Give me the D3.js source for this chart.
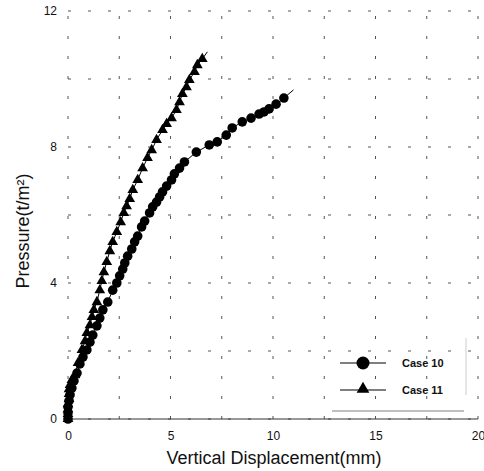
<!DOCTYPE html>
<html>
<head>
<meta charset="utf-8">
<script src="https://cdnjs.cloudflare.com/ajax/libs/d3/7.8.5/d3.min.js"></script>
<style>
  body { margin: 0; background: #fff; }
</style>
</head>
<body>
<div class="chart"></div>
<script>
const xTicks = [0, 5, 10, 15, 20];
const yTicks = [0, 4, 8, 12];
const xGrid = [0, 2.5, 5, 7.5, 10, 12.5, 15, 17.5, 20];
const yGrid = [0, 2, 4, 6, 8, 10, 12];

// Case 10 (circles)
const case10X = [0, 0, 0, 0.05, 0.1, 0.19, 0.29, 0.44, 0.58, 0.73, 0.92, 1.07, 1.21, 1.41, 1.55, 1.7,
  1.94, 2.18, 2.38, 2.52, 2.67, 2.77, 2.91, 3.11, 3.25, 3.4, 3.59, 3.74, 3.98, 4.13, 4.32, 4.47,
  4.61, 4.81, 5.05, 5.19, 5.44, 5.68, 6.26, 6.89, 7.28, 7.72, 8.01, 8.5, 8.93, 9.32, 9.56, 9.81,
  10.15, 10.53];
const case10Y = [0, 0.18, 0.35, 0.53, 0.71, 0.91, 1.12, 1.35, 1.62, 1.82, 2.03, 2.26, 2.47, 2.74, 2.97, 3.21,
  3.44, 3.79, 4.0, 4.21, 4.41, 4.59, 4.79, 5.0, 5.21, 5.38, 5.65, 5.82, 6.06, 6.24, 6.38, 6.53,
  6.68, 6.85, 7.03, 7.21, 7.38, 7.56, 7.85, 8.06, 8.15, 8.35, 8.56, 8.74, 8.85, 8.97, 9.03, 9.12,
  9.26, 9.44];
const case10End = [11.0, 9.68];

// Case 11 (triangles)
const case11X = [0, 0, 0, 0, 0.05, 0.05, 0.05, 0.1, 0.19, 0.34, 0.49, 0.68, 0.83, 0.92, 1.07, 1.17,
  1.26, 1.41, 1.55, 1.65, 1.75, 1.89, 2.04, 2.18, 2.38, 2.57, 2.72, 2.86, 3.01, 3.16, 3.4, 3.64,
  3.88, 4.08, 4.32, 4.61, 4.81, 5.05, 5.29, 5.44, 5.58, 5.78, 5.92, 6.17, 6.31, 6.55];
const case11Y = [0, 0.15, 0.29, 0.44, 0.59, 0.74, 0.88, 1.0, 1.15, 1.29, 1.65, 2.03, 2.29, 2.53, 2.76, 3.0,
  3.21, 3.44, 3.79, 4.06, 4.32, 4.62, 4.94, 5.21, 5.5, 5.79, 6.06, 6.26, 6.47, 6.74, 7.03, 7.38,
  7.68, 7.91, 8.21, 8.5, 8.68, 8.85, 9.09, 9.32, 9.56, 9.76, 9.97, 10.21, 10.41, 10.59];
const case11End = [6.8, 10.8];

const legendLabels = ["Case 10", "Case 11"];

const svgWidth = 484,
  svgHeight = 471,
  gridColor = "#555";

const svg = d3
  .select(".chart")
  .append("svg")
  .attr("width", svgWidth)
  .attr("height", svgHeight)
  .style("font-family", "Arial, 'Liberation Sans', sans-serif");

const xScale = d3.scaleLinear().domain([0, 20]).range([68, 478]);
const yScale = d3.scaleLinear().domain([0, 12]).range([419, 11]);

// grid
svg
  .selectAll(".vgrid")
  .data(xGrid)
  .enter()
  .append("line")
  .attr("x1", (d) => xScale(d))
  .attr("x2", (d) => xScale(d))
  .attr("y1", yScale(0))
  .attr("y2", yScale(12))
  .attr("stroke", gridColor)
  .attr("stroke-width", 1)
  .attr("stroke-dasharray", "3,17");

svg
  .selectAll(".hgrid")
  .data(yGrid)
  .enter()
  .append("line")
  .attr("x1", xScale(0))
  .attr("x2", xScale(20))
  .attr("y1", (d) => yScale(d))
  .attr("y2", (d) => yScale(d))
  .attr("stroke", gridColor)
  .attr("stroke-width", 1)
  .attr("stroke-dasharray", "3,17");

// bottom baseline
svg
  .append("line")
  .attr("x1", xScale(0))
  .attr("x2", xScale(20))
  .attr("y1", yScale(0))
  .attr("y2", yScale(0))
  .attr("stroke", "#333")
  .attr("stroke-width", 1);

// axes
const xAxis = d3.axisBottom(xScale).tickValues(xTicks).tickSize(0).tickPadding(12);
const yAxis = d3.axisLeft(yScale).tickValues(yTicks).tickSize(0).tickPadding(11);

svg
  .append("g")
  .attr("transform", `translate(0, ${yScale(0)})`)
  .call(xAxis)
  .call((g) => g.select(".domain").remove())
  .selectAll("text")
  .style("font", "12px Arial")
  .attr("fill", "#111");

svg
  .append("g")
  .attr("transform", `translate(${xScale(0)}, 0)`)
  .call(yAxis)
  .call((g) => g.select(".domain").remove())
  .selectAll("text")
  .style("font", "12px Arial")
  .attr("fill", "#111");

svg
  .append("text")
  .attr("x", 274)
  .attr("y", 464)
  .attr("text-anchor", "middle")
  .style("font", "18px Arial")
  .attr("fill", "#111")
  .text("Vertical Displacement(mm)");

svg
  .append("text")
  .attr("transform", "translate(29, 231) rotate(-90)")
  .attr("text-anchor", "middle")
  .style("font", "18px Arial")
  .attr("fill", "#111")
  .text("Pressure(t/m²)");

// series
const case10 = case10X.map((x, i) => ({ x: x, y: case10Y[i] }));
const case11 = case11X.map((x, i) => ({ x: x, y: case11Y[i] }));

const line = d3
  .line()
  .x((d) => xScale(d.x))
  .y((d) => yScale(d.y));

svg
  .append("path")
  .attr("d", line(case10.concat([{ x: case10End[0], y: case10End[1] }])))
  .attr("stroke", "#000")
  .attr("stroke-width", 1)
  .attr("fill", "none");

svg
  .append("path")
  .attr("d", line(case11.concat([{ x: case11End[0], y: case11End[1] }])))
  .attr("stroke", "#000")
  .attr("stroke-width", 1)
  .attr("fill", "none");

svg
  .selectAll(".case10-circles")
  .data(case10)
  .enter()
  .append("circle")
  .attr("cx", (d) => xScale(d.x))
  .attr("cy", (d) => yScale(d.y))
  .attr("r", 4.8)
  .attr("fill", "#000");

const triangle = d3.symbol().type(d3.symbolTriangle).size(50);

svg
  .selectAll(".case11-triangles")
  .data(case11)
  .enter()
  .append("path")
  .attr("d", triangle)
  .attr("transform", (d) => `translate(${xScale(d.x)}, ${yScale(d.y)})`)
  .attr("fill", "#000");

// legend
const legend = svg.append("g");

legend
  .append("line")
  .attr("x1", 332)
  .attr("x2", 464)
  .attr("y1", 411)
  .attr("y2", 411)
  .attr("stroke", "#aaa")
  .attr("stroke-width", 1.5);

legend
  .append("line")
  .attr("x1", 466)
  .attr("x2", 466)
  .attr("y1", 338)
  .attr("y2", 395)
  .attr("stroke", "#ccc")
  .attr("stroke-width", 1);

const legendRows = legend
  .selectAll(".legend-row")
  .data(legendLabels)
  .enter()
  .append("g")
  .attr("transform", (d, i) => `translate(0, ${363 + i * 27})`);

legendRows
  .append("line")
  .attr("x1", 340)
  .attr("x2", 386)
  .attr("stroke", "#000")
  .attr("stroke-width", 1.2);

legendRows
  .filter((d, i) => i === 0)
  .append("circle")
  .attr("cx", 363)
  .attr("r", 6.5)
  .attr("fill", "#000");

legendRows
  .filter((d, i) => i === 1)
  .append("path")
  .attr("d", d3.symbol().type(d3.symbolTriangle).size(70))
  .attr("transform", "translate(363, -1)")
  .attr("fill", "#000");

legendRows
  .append("text")
  .attr("x", 402)
  .attr("dy", "0.35em")
  .style("font", "bold 11px Arial")
  .attr("fill", "#111")
  .text((d) => d);
</script>
</body>
</html>
